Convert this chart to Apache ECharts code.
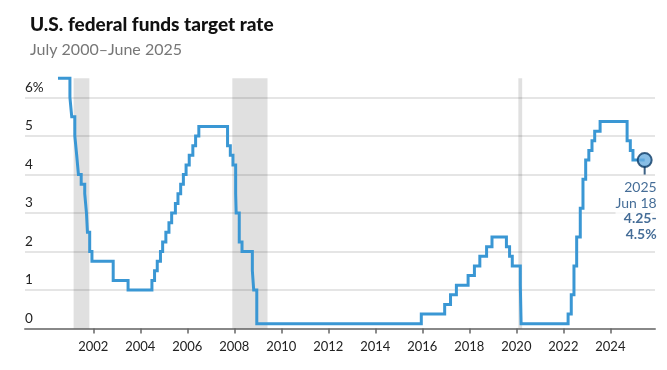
<!DOCTYPE html>
<html>
<head>
<meta charset="utf-8">
<script src="https://cdn.jsdelivr.net/npm/echarts@6/dist/echarts.min.js"></script>
<style>html,body{margin:0;padding:0;background:#fff}#c{width:667px;height:370px}</style>
</head>
<body>
<div id="c"></div>
<script>
// Effective dates of target-rate changes (range midpoint after Dec 2008)
const changeDates = [
  '2000-07-01','2001-01-03','2001-01-31','2001-03-20','2001-04-18','2001-05-15','2001-06-27',
  '2001-08-21','2001-09-17','2001-10-02','2001-11-06','2001-12-11','2002-11-06','2003-06-25',
  '2004-06-30','2004-08-10','2004-09-21','2004-11-10','2004-12-14','2005-02-02','2005-03-22',
  '2005-05-03','2005-06-30','2005-08-09','2005-09-20','2005-11-01','2005-12-13','2006-01-31',
  '2006-03-28','2006-05-10','2006-06-29','2007-09-18','2007-10-31','2007-12-11','2008-01-22',
  '2008-01-30','2008-03-18','2008-04-30','2008-10-08','2008-10-29','2008-12-16','2015-12-16',
  '2016-12-14','2017-03-15','2017-06-14','2017-12-13','2018-03-21','2018-06-13','2018-09-26',
  '2018-12-19','2019-07-31','2019-09-18','2019-10-30','2020-03-03','2020-03-15','2022-03-16',
  '2022-05-04','2022-06-15','2022-07-27','2022-09-21','2022-11-02','2022-12-14','2023-02-01',
  '2023-03-22','2023-05-03','2023-07-26','2024-09-18','2024-11-07','2024-12-18','2025-06-18'
];
const rates = [
  6.5,6.0,5.5,5.0,4.5,4.0,3.75,
  3.5,3.0,2.5,2.0,1.75,1.25,1.0,
  1.25,1.5,1.75,2.0,2.25,2.5,2.75,
  3.0,3.25,3.5,3.75,4.0,4.25,4.5,
  4.75,5.0,5.25,4.75,4.5,4.25,3.5,
  3.0,2.25,2.0,1.5,1.0,0.125,0.375,
  0.625,0.875,1.125,1.375,1.625,1.875,2.125,
  2.375,2.125,1.875,1.625,1.125,0.125,0.375,
  0.875,1.625,2.375,3.125,3.875,4.375,4.625,
  4.875,5.125,5.375,4.875,4.625,4.375,4.375
];
const recessionStarts = ['2001-03-01','2007-12-01','2020-02-01'];
const recessionEnds   = ['2001-11-01','2009-06-01','2020-04-01'];
const tickYears = [2002,2004,2006,2008,2010,2012,2014,2016,2018,2020,2022,2024];
const yTicks = [0,1,2,3,4,5,6];
const endLabel = { year: '2025', day: 'Jun 18', range1: '4.25-', range2: '4.5%' };

function toYear(s) {
  const d = new Date(s + 'T00:00:00Z');
  const y = d.getUTCFullYear();
  const start = Date.UTC(y, 0, 1), next = Date.UTC(y + 1, 0, 1);
  return y + (d.getTime() - start) / (next - start);
}

const lineData = changeDates.map((d, i) => [toYear(d), rates[i]]);
const last = lineData[lineData.length - 1];
const recAreas = recessionStarts.map((s, i) => [
  { xAxis: toYear(s), yAxis: 0 },
  { xAxis: toYear(recessionEnds[i]), yAxis: 6.5 }
]);

const FONT = 'Lato, "Open Sans", sans-serif';
const chart = echarts.init(document.getElementById('c'), null, { renderer: 'canvas' });
chart.setOption({
  animation: false,
  backgroundColor: '#fff',
  title: [
    { text: 'U.S. federal funds target rate', left: 25, top: 10,
      textStyle: { fontFamily: FONT, fontSize: 19, fontWeight: 900, color: '#111' } },
    { text: 'July 2000\u2013June 2025', left: 25, top: 37,
      textStyle: { fontFamily: FONT, fontSize: 16, fontWeight: 'normal', color: '#777' } }
  ],
  grid: { left: 25, right: 12, top: 78.25, bottom: 41.5, containLabel: false },
  xAxis: {
    type: 'value', min: 1999.094, max: 2025.9,
    axisLine: { show: true, lineStyle: { color: '#888', width: 2 } },
    axisTick: { show: true, customValues: tickYears, length: 5, lineStyle: { color: '#666', width: 1.5 } },
    axisLabel: { customValues: tickYears, margin: 12, color: '#222', fontSize: 13, fontFamily: FONT,
      formatter: v => String(Math.round(v)) },
    splitLine: { show: false }
  },
  yAxis: {
    type: 'value', min: 0, max: 6.5, interval: 1,
    axisLine: { show: false }, axisTick: { show: false },
    axisLabel: {
      inside: false, margin: 0, align: 'left', verticalAlign: 'bottom', padding: [0, 0, 3, 0],
      color: '#222', fontSize: 13.5, fontFamily: FONT,
      formatter: v => (yTicks.indexOf(v) < 0 ? '' : (v === 6 ? v + '%' : String(v)))
    },
    splitLine: { show: true, lineStyle: { color: ['#ddd','#ddd','#ddd','#ddd','#ddd','#ddd','#ddd','rgba(0,0,0,0)'], width: 1.5 } }
  },
  series: [
    {
      type: 'line', data: [], z: 1, silent: true,
      markArea: { silent: true, itemStyle: { color: 'rgba(0,0,0,0.12)' }, data: recAreas }
    },
    {
      type: 'line', data: lineData, step: 'end', showSymbol: false, clip: false, z: 3,
      lineStyle: { color: '#3a97d4', width: 3, join: 'miter' }
    },
    {
      type: 'scatter', data: [last], z: 4, symbol: 'rect', symbolSize: [2, 9], symbolOffset: [0, 10],
      itemStyle: { color: '#0d3b66' }, silent: true
    },
    {
      type: 'scatter', data: [last], z: 5, symbol: 'circle', symbolSize: 14,
      itemStyle: { color: '#6aaee0', borderColor: '#0d3b66', borderWidth: 2 },
      label: {
        show: true, position: 'bottom', align: 'right', offset: [12, 7], distance: 5,
        backgroundColor: '#fff',
        formatter: '{a|' + endLabel.year + '}\n{a|' + endLabel.day + '}\n{b|' + endLabel.range1 + '}\n{b|' + endLabel.range2 + '}',
        rich: {
          a: { fontFamily: FONT, fontSize: 14, color: '#17497d', lineHeight: 15.5, align: 'right' },
          b: { fontFamily: FONT, fontSize: 14, fontWeight: 'bold', color: '#17497d', lineHeight: 15.5, align: 'right' }
        }
      }
    }
  ]
});
</script>
</body>
</html>
